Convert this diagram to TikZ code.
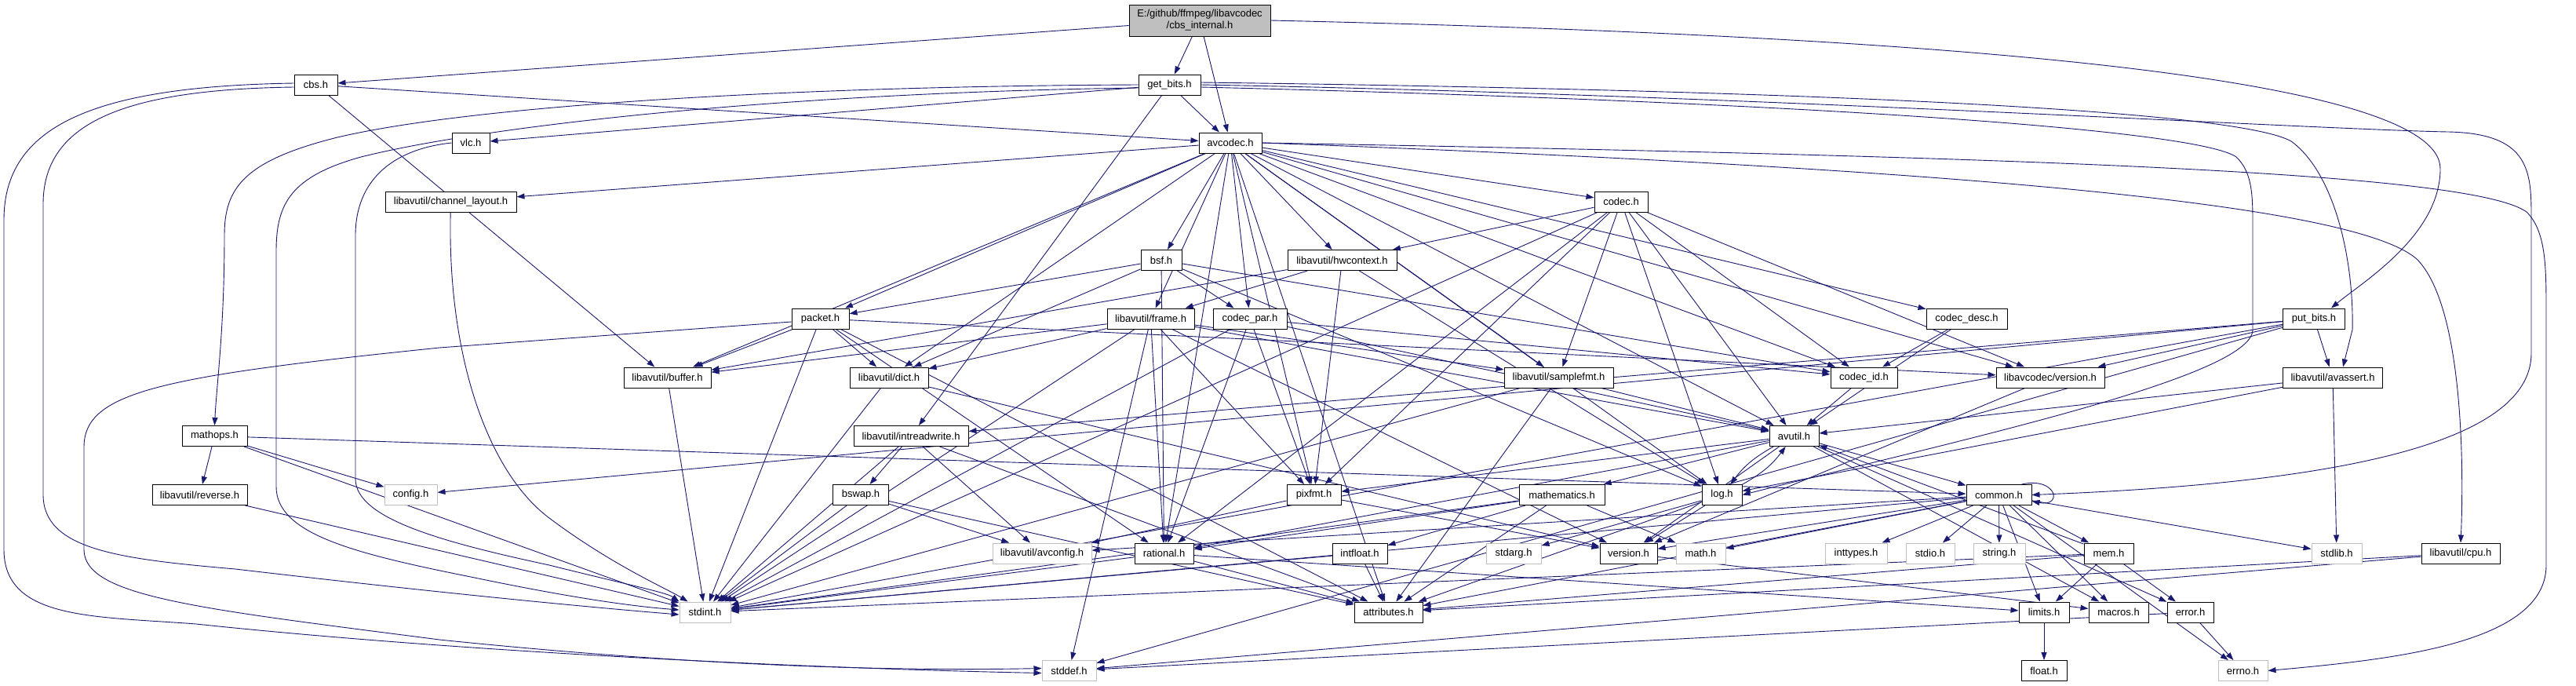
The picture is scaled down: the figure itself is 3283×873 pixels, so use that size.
\documentclass[tikz,border=0pt]{standalone}
\usepackage{fontspec}
\setmainfont{Liberation Sans}
\usepackage{tikz}
\usetikzlibrary{arrows.meta, backgrounds}
\definecolor{dxblue}{RGB}{25, 25, 112}
\definecolor{dxgray}{RGB}{191, 191, 191}
\tikzset{
  hbox/.style={
    rectangle, draw=black, fill=white, line width=1pt,
    minimum height=26pt, inner sep=0pt,
    font=\fontsize{13}{15}\selectfont
  },
  sysbox/.style={hbox, draw=dxgray},
  arr/.style={-{Triangle[length=10pt, width=7pt]}, line width=0.9pt, color=dxblue},
}
\begin{document}
\begin{tikzpicture}[x=1pt, y=-1pt]
  \useasboundingbox (0,0) rectangle (3283,873);

  % Nodes
  \node[hbox, fill=dxgray, minimum width=180pt, minimum height=40pt, align=center]
        (main) at (1529,26) {E:/github/ffmpeg/libavcodec\\/cbs\_internal.h};

  \node[hbox, minimum width=55pt]  (cbs)       at (402.5,108)  {cbs.h};
  \node[hbox, minimum width=79pt]  (getbits)   at (1490.5,108) {get\_bits.h};

  \node[hbox, minimum width=48pt]  (vlc)       at (600,182)    {vlc.h};
  \node[hbox, minimum width=80pt]  (avcodec)   at (1568,182)   {avcodec.h};

  \node[hbox, minimum width=167pt] (chlayout)  at (574.5,257)  {libavutil/channel\_layout.h};
  \node[hbox, minimum width=68pt]  (codec)     at (2066,257)   {codec.h};

  \node[hbox, minimum width=52pt]  (bsf)       at (1480,331.5) {bsf.h};
  \node[hbox, minimum width=139pt] (hwctx)     at (1710.5,331.5) {libavutil/hwcontext.h};

  \node[hbox, minimum width=73pt]  (packet)    at (1045.5,406) {packet.h};
  \node[hbox, minimum width=111pt] (frame)     at (1466.5,406) {libavutil/frame.h};
  \node[hbox, minimum width=94pt]  (codecpar)  at (1593,406)   {codec\_par.h};
  \node[hbox, minimum width=103pt] (codecdesc) at (2506.5,406) {codec\_desc.h};
  \node[hbox, minimum width=79pt]  (putbits)   at (2949,406)   {put\_bits.h};

  \node[hbox, minimum width=111pt] (buffer)    at (850.5,481)  {libavutil/buffer.h};
  \node[hbox, minimum width=100pt] (dict)      at (1133,481)   {libavutil/dict.h};
  \node[hbox, minimum width=139pt] (samplefmt) at (1986.5,481) {libavutil/samplefmt.h};
  \node[hbox, minimum width=85pt]  (codecid)   at (2375.5,481) {codec\_id.h};
  \node[hbox, minimum width=138pt] (lavcver)   at (2613,481)   {libavcodec/version.h};
  \node[hbox, minimum width=127pt] (avassert)  at (2973,481)   {libavutil/avassert.h};

  \node[hbox, minimum width=83pt]  (mathops)   at (273.5,555.5) {mathops.h};
  \node[hbox, minimum width=146pt] (intrw)     at (1161,555.5)  {libavutil/intreadwrite.h};
  \node[hbox, minimum width=63pt]  (avutil)    at (2286.5,555.5) {avutil.h};

  \node[hbox, minimum width=121pt] (reverse)   at (254.5,630.5)  {libavutil/reverse.h};
  \node[sysbox, minimum width=67pt] (config)   at (523.5,630.5)  {config.h};
  \node[hbox, minimum width=71pt]  (bswap)     at (1097,630.5)   {bswap.h};
  \node[hbox, minimum width=69pt]  (pixfmt)    at (1674.5,630.5) {pixfmt.h};
  \node[hbox, minimum width=109pt] (mathem)    at (1990.5,630.5) {mathematics.h};
  \node[hbox, minimum width=51pt]  (logh)      at (2194.5,630.5) {log.h};
  \node[hbox, minimum width=83pt]  (common)    at (2547.5,630.5) {common.h};

  \node[sysbox, minimum width=126pt] (avconfig) at (1328,705)  {libavutil/avconfig.h};
  \node[hbox, minimum width=75pt]  (rational)  at (1483.5,705) {rational.h};
  \node[hbox, minimum width=70pt]  (intfloat)  at (1733,705)   {intfloat.h};
  \node[sysbox, minimum width=70pt] (stdarg)   at (1929,705)   {stdarg.h};
  \node[hbox, minimum width=73pt]  (version)   at (2075.5,705) {version.h};
  \node[sysbox, minimum width=63pt] (mathh)    at (2167.5,705) {math.h};
  \node[sysbox, minimum width=79pt] (inttypes) at (2365.5,705) {inttypes.h};
  \node[sysbox, minimum width=62pt] (stdio)    at (2460,705)   {stdio.h};
  \node[sysbox, minimum width=66pt] (stringh)  at (2548,705)   {string.h};
  \node[hbox, minimum width=63pt]  (mem)       at (2687.5,705) {mem.h};
  \node[sysbox, minimum width=64pt] (stdlib)   at (2978,705)   {stdlib.h};
  \node[hbox, minimum width=100pt] (cpu)       at (3136,705)   {libavutil/cpu.h};

  \node[sysbox, minimum width=65pt] (stdint)   at (898.5,780)  {stdint.h};
  \node[hbox, minimum width=87pt]  (attrib)    at (1769.5,780) {attributes.h};
  \node[hbox, minimum width=64pt]  (limits)    at (2605,780)   {limits.h};
  \node[hbox, minimum width=76pt]  (macros)    at (2700,780)   {macros.h};
  \node[hbox, minimum width=59pt]  (errorh)    at (2791.5,780) {error.h};

  \node[sysbox, minimum width=69pt] (stddef)   at (1362.5,854.5) {stddef.h};
  \node[hbox, minimum width=58pt]  (floath)    at (2605,854.5)   {float.h};
  \node[sysbox, minimum width=63pt] (errno)    at (2858.5,854.5) {errno.h};

  \begin{scope}[on background layer]
  \fill[white] (0,0) rectangle (3283,873);

  % Arrows
  \foreach \t in {cbs,getbits,avcodec} \draw[arr] (main) -- (\t);
  \draw[arr] (main.east) .. controls (2450,45) and (3110,95) .. (3110,215)
             .. controls (3110,300) and (3010,360) .. ([xshift=22pt]putbits.north);

  \foreach \t in {buffer,avcodec} \draw[arr] (cbs) -- (\t);
  \draw[arr] ([yshift=2pt]cbs.west) .. controls (120,110) and (5,160) .. (5,280)
             -- (5,700) .. controls (5,790) and (120,785) .. (250,795)
             .. controls (600,832) and (1050,852) .. ([yshift=-3pt]stddef.west);
  \draw[arr] ([yshift=-3pt]cbs.west) .. controls (150,114) and (55,160) .. (55,260)
             -- (55,630) .. controls (55,700) and (150,712) .. (300,725)
             .. controls (600,760) and (780,776) .. ([yshift=-3pt]stdint.west);

  \foreach \t in {intrw,avcodec,vlc} \draw[arr] (getbits) -- (\t);
  \draw[arr] (getbits.west) .. controls (1000,110) and (600,135) .. (430,175)
             .. controls (310,205) and (286,240) .. (286,300)
             .. controls (286,420) and (276,490) .. (mathops.north);
  \draw[arr] ([yshift=-4pt]getbits.west) .. controls (1000,118) and (620,160) .. (460,200)
             .. controls (370,225) and (352,260) .. (352,320) -- (352,620)
             .. controls (352,680) and (450,705) .. (600,735)
             .. controls (720,760) and (800,772) .. ([yshift=3pt]stdint.west);
  \draw[arr] (getbits.east) .. controls (2200,120) and (2950,165) .. (3120,168)
             .. controls (3226,170) and (3226,220) .. (3226,280) -- (3226,450)
             .. controls (3226,560) and (3000,615) .. (common.east);
  \draw[arr] ([yshift=-3pt]getbits.east) .. controls (2300,130) and (2800,165) .. (2850,200)
             .. controls (2871,220) and (2871,250) .. (2871,290) -- (2871,420)
             .. controls (2871,480) and (2500,560) .. (logh.east);
  \draw[arr] ([yshift=3pt]getbits.east) .. controls (2300,115) and (2850,140) .. (2920,180)
             .. controls (2975,220) and (3000,330) .. (2998,420)
             -- ([xshift=13pt]avassert.north);

  \draw[arr] (vlc.west) .. controls (500,190) and (453,230) .. (453,300) -- (453,610)
             .. controls (453,660) and (560,690) .. (700,720)
             .. controls (800,745) and (850,755) .. (stdint.north west);

  \foreach \t in {samplefmt,attrib,avutil,buffer,chlayout,dict,frame,hwctx,logh,pixfmt,
                  rational,bsf,codec,codecdesc,codecpar,codecid,packet,lavcver}
    \draw[arr] (avcodec) -- (\t);
  \draw[arr] (avcodec.east) .. controls (2600,200) and (3150,220) .. (3220,270)
             .. controls (3245,295) and (3245,340) .. (3245,400) -- (3245,720)
             .. controls (3245,820) and (3050,840) .. (errno.east);
  \draw[arr] (avcodec.east) .. controls (2500,215) and (3000,260) .. (3080,330)
             .. controls (3140,390) and (3140,600) .. (cpu.north);

  \draw[arr] (chlayout) .. controls (570,450) and (620,600) .. (700,660)
             .. controls (780,720) and (850,750) .. (stdint);

  \foreach \t in {stdint,avutil,hwctx,logh,pixfmt,rational,samplefmt,codecid,lavcver}
    \draw[arr] (codec) -- (\t);
  \foreach \t in {dict,logh,rational,codecid,codecpar,packet} \draw[arr] (bsf) -- (\t);
  \foreach \t in {buffer,frame,logh,pixfmt} \draw[arr] (hwctx) -- (\t);

  \foreach \t in {stdint,attrib,buffer,dict,rational,lavcver} \draw[arr] (packet) -- (\t);
  \draw[arr] ([yshift=-4pt]packet.west) -- (560,443) .. controls (200,480) and (107,500) .. (107,570)
             -- (107,700) .. controls (107,760) and (250,775) .. (560,815)
             .. controls (900,850) and (1150,855) .. ([yshift=3pt]stddef.west);

  \foreach \t in {stddef,stdint,avutil,buffer,dict,rational,samplefmt,pixfmt,version}
    \draw[arr] (frame) -- (\t);
  \foreach \t in {stdint,avutil,rational,pixfmt,codecid} \draw[arr] (codecpar) -- (\t);
  \foreach \t in {avutil,codecid} \draw[arr] (codecdesc) -- (\t);
  \foreach \t in {stdint,stddef,config,intrw,avassert,lavcver} \draw[arr] (putbits) -- (\t);

  \draw[arr] (buffer) -- (stdint);
  \foreach \t in {stdint,version} \draw[arr] (dict) -- (\t);
  \foreach \t in {stdint,avutil,attrib} \draw[arr] (samplefmt) -- (\t);
  \draw[arr] (codecid) -- (avutil);
  \draw[arr] (lavcver) -- (version);
  \foreach \t in {stdlib,avutil,logh} \draw[arr] (avassert) -- (\t);

  \foreach \t in {stdint,config,common,reverse} \draw[arr] (mathops) -- (\t);
  \foreach \t in {stdint,avconfig,attrib,bswap} \draw[arr] (intrw) -- (\t);
  \foreach \t in {common,errorh,rational,version,macros,mathem,pixfmt} \draw[arr] (avutil) -- (\t);
  \draw[arr] (avutil) to[bend right=12] (logh);

  \draw[arr] (reverse) -- (stdint);
  \foreach \t in {stdint,avconfig,attrib} \draw[arr] (bswap) -- (\t);
  \foreach \t in {avconfig,version} \draw[arr] (pixfmt) -- (\t);
  \foreach \t in {stdint,mathh,attrib,rational,intfloat} \draw[arr] (mathem) -- (\t);
  \foreach \t in {stdarg,attrib,version} \draw[arr] (logh) -- (\t);
  \draw[arr] (logh) to[bend right=12] (avutil);

  \foreach \t in {errno,inttypes,limits,mathh,stdint,stdio,stdlib,stringh,attrib,
                  macros,version,avconfig,mem}
    \draw[arr] (common) -- (\t);
  \draw[arr] ([xshift=-13pt]common.north east) .. controls +(45,-10) and +(40,8)
             .. ([yshift=-8pt]common.east);

  \foreach \t in {stdint,limits,attrib} \draw[arr] (rational) -- (\t);
  \foreach \t in {stdint,attrib} \draw[arr] (intfloat) -- (\t);
  \draw[arr] (version) -- (macros);
  \foreach \t in {limits,stdint,attrib,errorh,avutil} \draw[arr] (mem) -- (\t);
  \foreach \t in {stddef,attrib} \draw[arr] (cpu) -- (\t);
  \draw[arr] (limits) -- (floath);
  \foreach \t in {errno,stddef} \draw[arr] (errorh) -- (\t);
  \end{scope}

\end{tikzpicture}
\end{document}
